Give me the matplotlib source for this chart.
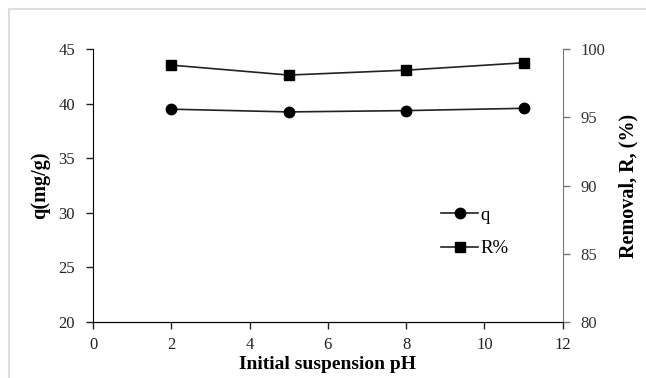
import matplotlib.pyplot as plt
from matplotlib.lines import Line2D

plt.rcParams['font.family'] = ['Liberation Serif', 'DejaVu Serif']

# data
ph = [2, 5, 8, 11]
q_vals = [39.5, 39.25, 39.37, 39.58]
r_vals = [98.83, 98.1, 98.46, 99.0]

x_ticks = [0, 2, 4, 6, 8, 10, 12]
q_ticks = [20, 25, 30, 35, 40, 45]
r_ticks = [80, 85, 90, 95, 100]

fig = plt.figure(figsize=(6.46, 3.78), dpi=100)
ax = fig.add_axes([0.144, 0.148, 0.727, 0.722])
ax2 = ax.twinx()

ax.plot(ph, q_vals, color='#222222', lw=1.2, marker='o', ms=7.5,
        mfc='black', mec='black', label='q')
ax2.plot(ph, r_vals, color='#222222', lw=1.2, marker='s', ms=7.5,
         mfc='black', mec='black', label='R%')

ax.set_xlim(0, 12)
ax.set_ylim(20, 45)
ax2.set_ylim(80, 100)
ax.set_xticks(x_ticks)
ax.set_yticks(q_ticks)
ax2.set_yticks(r_ticks)

for a in (ax, ax2):
    a.spines['top'].set_visible(False)
    a.tick_params(direction='out', length=5, width=1, labelsize=12,
                  colors='#222222')
ax.tick_params(axis='x', pad=6)
ax.tick_params(axis='y', pad=8)
ax2.tick_params(axis='y', pad=8)
ax.spines['right'].set_visible(False)
ax2.spines['left'].set_visible(False)
ax2.spines['right'].set_color('#777777')
ax2.tick_params(axis='y', colors='#777777', labelcolor='#333333')

ax.set_xlabel('Initial suspension pH', fontsize=14, fontweight='bold',
              labelpad=2)
ax.set_ylabel('q(mg/g)', fontsize=14.5, fontweight='bold', labelpad=6)
ax2.set_ylabel('Removal, R, (%)', fontsize=14.5, fontweight='bold',
               labelpad=9)

handles = [Line2D([], [], color='#222222', lw=1.2, marker='o', ms=7.5,
                  mfc='black', mec='black'),
           Line2D([], [], color='#222222', lw=1.2, marker='s', ms=7.5,
                  mfc='black', mec='black')]
ax2.legend(handles, ['q', 'R%'], loc='center left',
           bbox_to_anchor=(0.705, 0.33), frameon=False, fontsize=13.5,
           handlelength=2.0, handletextpad=0.1, labelspacing=0.85)

# light frame around the picture (top and left edges)
fig.add_artist(Line2D([9 / 646, 1], [1 - 9 / 378, 1 - 9 / 378],
                      transform=fig.transFigure, color='#dddddd', lw=1.5))
fig.add_artist(Line2D([9 / 646, 9 / 646], [0, 1 - 9 / 378],
                      transform=fig.transFigure, color='#dddddd', lw=1.5))

fig.savefig('out.png', dpi=100)
